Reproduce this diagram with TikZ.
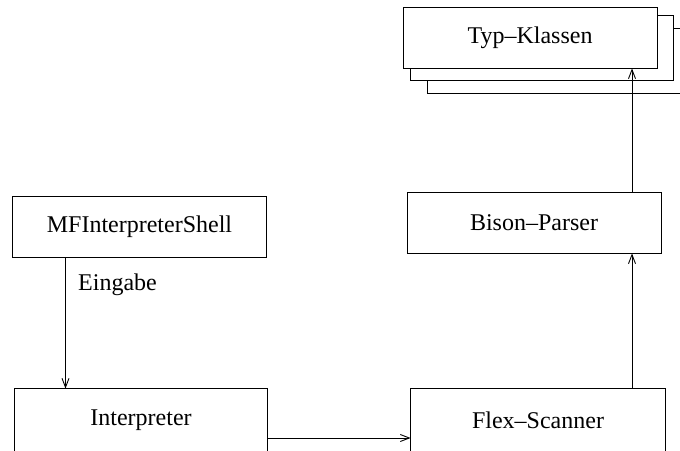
\documentclass[tikz,border=0pt]{standalone}
\usepackage{fontspec}
\setmainfont{Liberation Serif}
\usetikzlibrary{arrows.meta}
\tikzset{
  box/.style={draw, fill=white, line width=0.9pt, minimum width=254pt, minimum height=61pt,
              inner sep=0pt, font=\fontsize{24}{28}\selectfont},
  openbox/.style={box, draw=none, fill=none},
  frame/.style={draw, line width=0.9pt},
  layer/.style={draw, fill=white, line width=0.9pt},
  arr/.style={line width=0.9pt, -{Straight Barb[length=9pt,width=7pt]}},
  lbl/.style={inner sep=0pt, font=\fontsize{24}{28}\selectfont}
}
\begin{document}
\begin{tikzpicture}[x=1pt, y=-1pt]
  \useasboundingbox (0,0) rectangle (680,450);
  \clip (0,0) rectangle (680,450);
  \fill[white] (0,0) rectangle (680,450);

  % stacked type-class boxes (back layers first)
  \draw[layer] (427,28) rectangle (700,93);
  \draw[layer] (410.5,15) rectangle (673,80);
  \node[box] (typ)    at (530,37.5)  {Typ--Klassen};

  \node[box] (bison)  at (534,222.5) {Bison--Parser};
  \node[box] (mf)     at (139.5,226.5) {MFInterpreterShell};

  % bottom row runs past the lower edge
  \node[openbox, minimum width=252pt, minimum height=62pt] (interp) at (141,420) {Interpreter};
  \draw[frame] (interp.north west) rectangle ([yshift=-14pt]interp.south east);
  \node[openbox, minimum height=62pt] (flex) at (538,420) {Flex--Scanner};
  \draw[frame] (flex.north west) rectangle ([yshift=-14pt]flex.south east);

  % connectors
  \draw[arr] ([xshift=-74pt]mf.south) coordinate (m1) -- (m1 |- interp.north);
  \node[lbl, anchor=base west] (eing) at (78,290) {Eingabe};
  \draw[arr] ([yshift=-18pt]interp.east) coordinate (i1) -- (i1 -| flex.west);
  \draw[arr] ([xshift=94pt]flex.north) coordinate (f1) -- (f1 |- bison.south);
  \draw[arr] ([xshift=98pt]bison.north) coordinate (b1) -- (b1 |- typ.south);
\end{tikzpicture}
\end{document}
